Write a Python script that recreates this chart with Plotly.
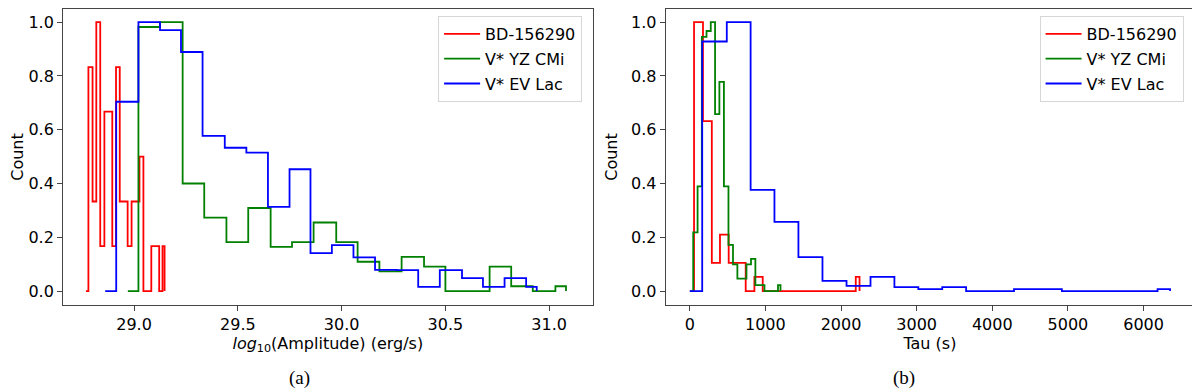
import plotly.graph_objects as go

# ── data: step histograms (bin edges + normalised counts) ────────────────────
NAMES = ["BD-156290", "V* YZ CMi", "V* EV Lac"]
COLORS = ["#ff0000", "#008000", "#0000ff"]

# (a) log10 amplitude
amp_red_edges = [28.768, 28.780, 28.800, 28.818, 28.837, 28.857, 28.876, 28.895, 28.913,
                 28.931, 28.950, 28.969, 28.988, 29.007, 29.026, 29.045, 29.064, 29.083,
                 29.102, 29.121, 29.137, 29.147]
amp_red_vals = [0, 0.833, 0.333, 1.0, 0.167, 0.667, 0.667, 0.167, 0.833, 0.333, 0.333,
                0.167, 0.333, 0.333, 0.5, 0, 0, 0.167, 0.167, 0, 0.167]

amp_green_edges = [28.970, 29.021, 29.125, 29.234, 29.338, 29.445, 29.550, 29.658, 29.761,
                   29.865, 29.974, 30.077, 30.182, 30.289, 30.397, 30.500, 30.607, 30.713,
                   30.817, 30.921, 31.030, 31.081]
amp_green_vals = [0, 0.982, 1.0, 0.4, 0.273, 0.182, 0.309, 0.164, 0.182, 0.255, 0.182,
                  0.109, 0.073, 0.127, 0.091, 0, 0, 0.091, 0.018, 0, 0.018]

amp_blue_edges = [28.861, 28.914, 29.021, 29.125, 29.226, 29.330, 29.437, 29.541, 29.645,
                  29.749, 29.850, 29.953, 30.057, 30.161, 30.265, 30.369, 30.473, 30.580,
                  30.681, 30.785, 30.889, 30.940]
amp_blue_vals = [0, 0.704, 1.0, 0.97, 0.889, 0.577, 0.533, 0.515, 0.313, 0.453, 0.141,
                 0.171, 0.125, 0.079, 0.078, 0.016, 0.078, 0.048, 0.016, 0.048, 0.016]

# (b) tau
tau_red_edges = [10, 57, 175, 292, 400, 515, 630, 740, 855, 965, 2195, 2245]
tau_red_vals = [0, 1.0, 0.632, 0.105, 0.21, 0.105, 0.105, 0, 0.053, 0, 0.053]

tau_green_edges = [15, 46, 104, 160, 222, 278, 335, 392, 452, 512, 572, 630, 690, 750,
                   810, 868, 928, 988, 1048, 1108, 1167, 1200]
tau_green_vals = [0, 0.218, 0.389, 0.945, 0.967, 1.0, 0.658, 0.778, 0.389, 0.172, 0.099,
                  0.046, 0.046, 0.099, 0.12, 0.022, 0.022, 0, 0, 0, 0.022]

tau_blue_edges = [0, 165, 490, 805, 1120, 1437, 1755, 2073, 2390, 2706, 3022, 3338, 3654,
                  3970, 4287, 4603, 4920, 5236, 5552, 5869, 6185, 6350]
tau_blue_vals = [0, 0.928, 1.0, 0.376, 0.257, 0.126, 0.038, 0.019, 0.053, 0.015, 0.007,
                 0.015, 0, 0, 0.007, 0.007, 0, 0, 0, 0, 0.007]

AMP_TICKS = [29.0, 29.5, 30.0, 30.5, 31.0]
TAU_TICKS = [0, 1000, 2000, 3000, 4000, 5000, 6000]
Y_TICKS = [0.0, 0.2, 0.4, 0.6, 0.8, 1.0]

_FONT = "DejaVu Sans, Liberation Sans, sans-serif"
# page body has an 8px default margin, so the figure is drawn 8px in from the corner
OFF = 8
W, H = 1200 - OFF, 391 - OFF


def step_xy(edges, vals):
    # hv steps over the bins, then drop back to zero at the last edge
    xs = list(edges) + [edges[-1]]
    ys = list(vals) + [vals[-1], 0]
    return xs, ys


fig = go.Figure()

panels = [
    ("x", "y", "legend", "a", [(amp_red_edges, amp_red_vals), (amp_green_edges, amp_green_vals),
                               (amp_blue_edges, amp_blue_vals)]),
    ("x2", "y2", "legend2", "b", [(tau_red_edges, tau_red_vals), (tau_green_edges, tau_green_vals),
                                  (tau_blue_edges, tau_blue_vals)]),
]
for xa, ya, leg, tag, series in panels:
    for name, color, (e, v) in zip(NAMES, COLORS, series):
        xs, ys = step_xy(e, v)
        fig.add_trace(go.Scatter(
            x=xs, y=ys, name=name, mode="lines",
            line=dict(color=color, width=1.8, shape="hv"),
            xaxis=xa, yaxis=ya, legend=leg, legendgroup=f"{tag}-{name}",
        ))


# screen pixel (reference picture) -> paper fraction
def px_x(p):
    return min(1.0, max(0.0, (p - OFF) / W))


def px_y(p):
    return min(1.0, max(0.0, 1 - (p - OFF) / H))


axis_common = dict(
    showline=True, mirror=True, linecolor="#444444", linewidth=1,
    ticks="outside", ticklen=5, tickcolor="#444444",
    showgrid=False, zeroline=False,
    tickfont=dict(family=_FONT, size=16, color="black"),
)

leg_common = dict(
    xanchor="right", yanchor="top",
    bgcolor="rgba(255,255,255,0.8)", bordercolor="#d6d6d6", borderwidth=1,
    font=dict(family=_FONT, size=16, color="black"),
    tracegroupgap=1, itemwidth=36,
)

fig.update_layout(
    width=W, height=H,
    paper_bgcolor="white", plot_bgcolor="white",
    margin=dict(l=0, r=0, t=0, b=0),
    font=dict(family=_FONT, size=16, color="black"),
    xaxis=dict(domain=[px_x(58.3), px_x(590)], range=[28.658, 31.209],
               tickvals=AMP_TICKS, tickformat=".1f", anchor="y",
               title=dict(text="<i>log</i><sub>10</sub>(Amplitude) (erg/s)",
                          font=dict(size=16), standoff=2),
               **axis_common),
    yaxis=dict(domain=[px_y(304.3), px_y(8.5)], range=[-0.05, 1.047],
               tickvals=Y_TICKS, tickformat=".1f", anchor="x",
               title=dict(text="Count", font=dict(size=16), standoff=9),
               **axis_common),
    xaxis2=dict(domain=[px_x(663.5), px_x(1194)], range=[-317, 6667],
                tickvals=TAU_TICKS, anchor="y2",
                title=dict(text="Tau (s)", font=dict(size=16), standoff=2),
                **axis_common),
    yaxis2=dict(domain=[px_y(304.3), px_y(8.5)], range=[-0.05, 1.047],
                tickvals=Y_TICKS, tickformat=".1f", anchor="x2",
                title=dict(text="Count", font=dict(size=16), standoff=9),
                **axis_common),
    legend=dict(x=px_x(579.5), y=px_y(15), **leg_common),
    legend2=dict(x=px_x(1183.5), y=px_y(15), **leg_common),
)

for txt, xp in [("(a)", 296), ("(b)", 903)]:
    fig.add_annotation(text=txt, x=px_x(xp), y=px_y(378), xref="paper", yref="paper",
                       showarrow=False, xanchor="center", yanchor="middle",
                       font=dict(family="Liberation Serif, Times New Roman, serif",
                                 size=19, color="black"))

fig.write_html("out.html")
